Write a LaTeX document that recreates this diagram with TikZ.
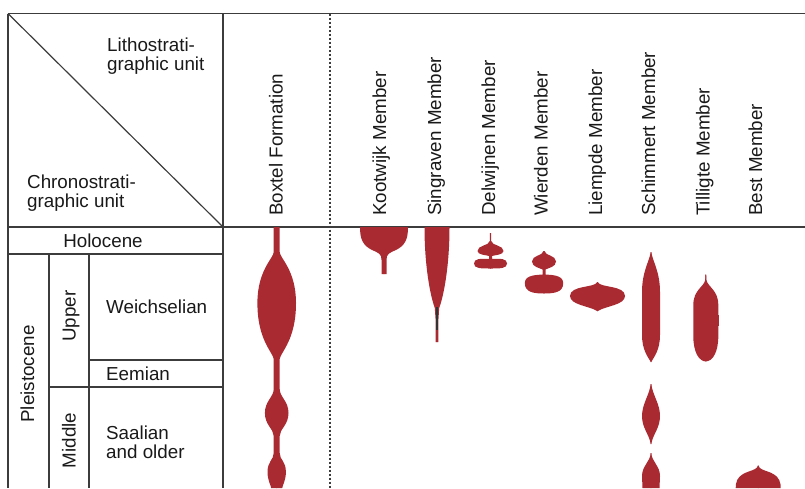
\documentclass[tikz,border=0pt]{standalone}
\usepackage{fontspec}
\setmainfont{Liberation Sans}
\usepackage{tikz}
\usetikzlibrary{positioning}
\usepackage{xcolor}
\definecolor{rustred}{RGB}{170,42,50}
\definecolor{gridgray}{RGB}{60,60,60}
\newcommand{\unitfont}{\fontsize{18.8}{18.3}\selectfont}
\tikzset{lobe/.style={fill=rustred, draw=none},gridline/.style={draw=gridgray, line width=1.2pt},
  unitlabel/.style={inner sep=0pt, font=\unitfont, text=black!90, align=left},
  memberlabel/.style={inner sep=0pt, font=\unitfont, text=black!90, rotate=90, anchor=base west}}
% right half of a symmetric body, mirrored about its centre line
\newcommand{\mirrorfill}[2]{\foreach \s in {-1,1} {\fill[lobe, shift={(#1,0)}, xscale=\s] #2;}}

\begin{document}
\begin{tikzpicture}[x=1pt, y=-1pt]
        \useasboundingbox (0,0) rectangle (805,488);
        % Frame
        \draw[gridline] (8,13.5) -- (805,13.5);
        \draw[gridline] (8,13.5) -- (8,488);
        \draw[gridline] (223,13.5) -- (223,488);
        \draw[gridline] (8,13.5) -- (223,227);
        \draw[gridline] (8,227) -- (805,227);
        \draw[gridline] (8,254) -- (223,254);
        \draw[gridline] (49,254) -- (49,488);
        \draw[gridline] (89,254) -- (89,488);
        \draw[gridline] (89,360) -- (223,360);
        \draw[gridline] (49,387) -- (223,387);
        \draw[draw=gridgray, line width=1.1pt, dash pattern=on 2pt off 2pt] (330,13.5) -- (330,488);
        % Header
        \node[unitlabel, anchor=north west] (litho) at (107,38) {Lithostrati-\\graphic unit};
        \node[unitlabel, anchor=north west] (chrono) at (27,175) {Chronostrati-\\graphic unit};
        \node[memberlabel] (boxtel) at (282.5,216) {Boxtel Formation};
        \foreach \x/\mname in {
            386/Kootwijk,
            441/Singraven,
            495/Delwijnen,
            547.5/Wierden,
            602/Liempde,
            655/Schimmert,
            709.5/Tilligte,
            762/Best} {
            \node[memberlabel] (m\mname) at (\x,216) {\mname\ Member};
        }
        % Chronostratigraphic units
        \node[unitlabel, anchor=base] (holocene) at (103,247) {Holocene};
        \node[unitlabel, rotate=90, anchor=base] (pleistocene) at (34,374) {Pleistocene};
        \node[unitlabel, rotate=90, anchor=base] (upper) at (75.5,316) {Upper};
        \node[unitlabel, rotate=90, anchor=base] (middle) at (75.5,440.5) {Middle};
        \node[unitlabel, anchor=base west] (weichselian) at (106,313) {Weichselian};
        \node[unitlabel, anchor=base west] (eemian) at (106,380.5) {Eemian};
        \node[unitlabel, anchor=north west] (saalian) at (106,426) {Saalian\\and older};
        % Bodies
        \mirrorfill{276.7}{(-0.4,227) -- (3,227) -- (3,252) .. controls (3,258) and (19.3,270) .. (19.3,303) .. controls (19.3,340) and (4,352) .. (3,359) -- (3,389) .. controls (3,397) and (11.8,401) .. (11.8,413) .. controls (11.8,425) and (3,429) .. (3,436) -- (3,453) .. controls (3,460) and (9.2,461) .. (9.2,472) .. controls (9.2,480) and (6,485) .. (5.5,488) -- (-0.4,488) -- cycle}
        \mirrorfill{384}{(-0.4,227) -- (23.8,227) .. controls (24.5,240) and (20,246) .. (12,250) .. controls (5,253) and (2.5,254) .. (2.5,260) -- (2.5,274) -- (-0.4,274) -- cycle}
        \mirrorfill{437}{(-0.4,227) -- (12.5,227) .. controls (12.5,265) and (7,295) .. (2.2,308) -- (1.4,320) -- (1.4,342) -- (-0.4,342) -- cycle}
        \fill[black!80] (435.8,307) rectangle (438.2,330);
        \mirrorfill{490.5}{(-0.4,233) -- (0.7,233) -- (0.7,241) .. controls (1.5,246) and (13,245) .. (13,251) .. controls (13,255) and (4,255) .. (1.5,256) -- (1.5,259) .. controls (10,258.5) and (16.5,258.5) .. (16.5,263.5) .. controls (16.5,268.5) and (10,268.5) .. (-0.4,268.5) -- cycle}
        \mirrorfill{544}{(-0.4,251) -- (0.5,251) .. controls (1,256) and (12,255) .. (12,261.5) .. controls (12,267) and (4,268) .. (1.5,269.5) -- (1.5,274.5) .. controls (6,275) and (19.2,274.5) .. (19.2,283) .. controls (19.2,292.5) and (10,293.5) .. (-0.4,293.5) -- cycle}
        \mirrorfill{597.5}{(-0.4,282) -- (0.3,282) .. controls (2,288) and (27.5,285) .. (27.5,296) .. controls (27.5,305) and (8,306) .. (0.3,311) -- (-0.4,311) -- cycle}
        \mirrorfill{651}{(-0.4,252) -- (0.2,252) .. controls (2,262) and (9,272) .. (9,292) -- (9,335) .. controls (9,350) and (3,357) .. (0.2,362) -- (-0.4,362) -- cycle}
        \mirrorfill{651}{(-0.4,384) -- (0.2,384) .. controls (2,396) and (9,404) .. (9,416) .. controls (9,428) and (2,434) .. (0.2,444) -- (-0.4,444) -- cycle}
        \mirrorfill{651}{(-0.4,453) -- (0.2,453) .. controls (1,462) and (9,466) .. (9,476) -- (8.5,488) -- (-0.4,488) -- cycle}
        \mirrorfill{705.8}{(-0.4,274.5) -- (0.4,274.5) -- (0.6,280) .. controls (2,287) and (12.5,290) .. (12.5,305) -- (12.5,336) .. controls (12.5,352) and (7,361.5) .. (-0.4,361.5) -- cycle}
        \fill[lobe] (718,315) rectangle (718.9,326);
        \mirrorfill{758.2}{(-0.4,465.5) -- (0.3,465.5) .. controls (1.5,472) and (16,470) .. (21,480) .. controls (22.5,483) and (22.5,486) .. (22.5,488) -- (-0.4,488) -- cycle}
    \end{tikzpicture}
\end{document}
